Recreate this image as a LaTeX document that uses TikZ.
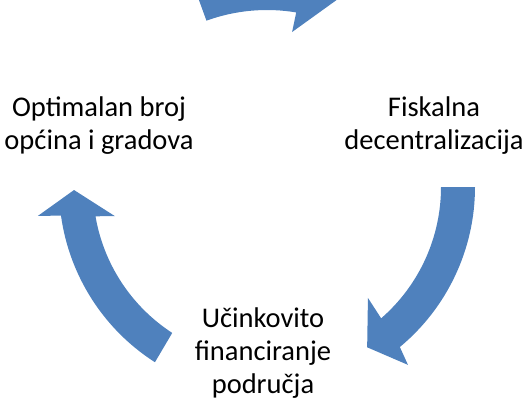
\documentclass[tikz,border=0pt]{standalone}
\usepackage{fontspec}
\setmainfont{Carlito}
\definecolor{cycleblue}{RGB}{79,129,189}

\begin{document}
\begin{tikzpicture}[x=1pt,y=1pt,
    cyclearrow/.style={fill=cycleblue,draw=none},
    steptext/.style={align=center,font=\fontsize{28.5}{33}\selectfont,inner sep=0pt}]
    \useasboundingbox (0,0) rectangle (528,400);
    \clip (0,0) rectangle (528,400);

    % === Texts of the cycle ===
    \node[steptext] (optimal) at (99,274) {Optimalan broj\\općina i gradova};
    \node[steptext] (fiscal) at (434,274) {Fiskalna\\decentralizacija};
    \node[steptext] (finance) at (263,47) {Učinkovito\\financiranje\\područja};

    % === Curved arrows round the hub ===
    \coordinate (hub) at (267,213);
    \begin{scope}[shift={(hub)}]
        % Top: optimal -> fiscal
        \fill[cyclearrow] (110:177) -- (110:211)
            arc[start angle=110,end angle=77.8,radius=211]
            -- (77:230) -- (69.5:200) -- (80.8:157) -- (80.5:177)
            arc[start angle=80.5,end angle=110,radius=177] -- cycle;

        % Right: fiscal -> finance
        \fill[cyclearrow] (0:174) -- (0:208)
            arc[start angle=0,end angle=-50.3,radius=208]
            -- (-51.6:227) -- (-58:189) -- (-47.7:150) -- (-49:174)
            arc[start angle=-49,end angle=0,radius=174] -- cycle;

        % Left: finance -> optimal
        \fill[cyclearrow] (237:174) -- (237.4:208)
            arc[start angle=237.4,end angle=187.9,radius=208]
            -- (187.2:231) -- (180.9:193) -- (190.8:155) -- (189.7:174)
            arc[start angle=189.7,end angle=237,radius=174] -- cycle;
    \end{scope}
\end{tikzpicture}
\end{document}
